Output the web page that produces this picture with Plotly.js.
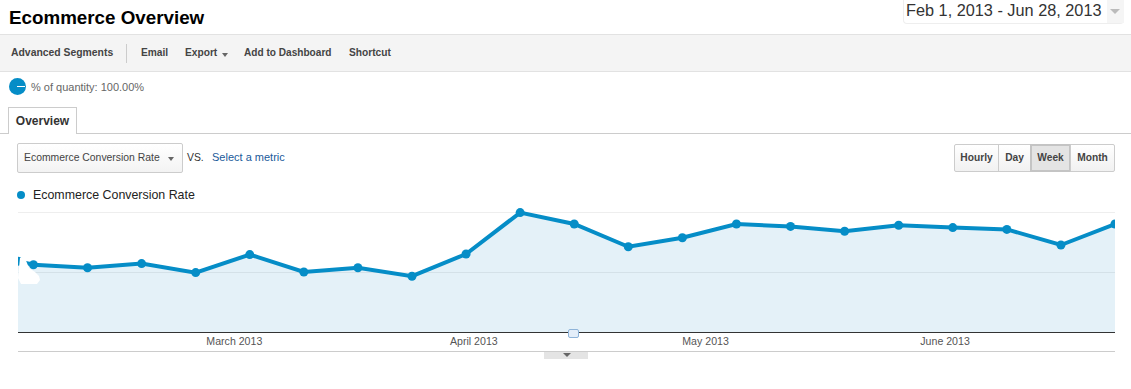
<!DOCTYPE html>
<html><head><meta charset="utf-8">
<script src="https://cdn.plot.ly/plotly-3.0.1.min.js"></script>
<style>
html,body{margin:0;padding:0;background:#fff;overflow:hidden;font-family:"Liberation Sans",Arial,sans-serif}
#page{position:relative;width:1131px;height:389px;overflow:hidden}
#page div{position:absolute;white-space:nowrap;box-sizing:border-box}
#chart{left:0;top:0;width:1131px;height:389px}
.tool{top:46px;font-size:10.2px;font-weight:bold;color:#444;line-height:13px}
.btn{top:144px;height:28px;font-size:10.2px;font-weight:bold;color:#444;line-height:26px;text-align:center;border:1px solid #ccc;background:linear-gradient(#fff,#f1f1f1)}
.arrow{width:0;height:0;border-left:4px solid transparent;border-right:4px solid transparent;border-top:4px solid #666}
</style></head><body>
<div id="page">
  <div id="bar" style="left:0;top:34px;width:1131px;height:38px;background:#f4f4f4;border-top:1px solid #e2e2e2;border-bottom:1px solid #e2e2e2"></div>
  <div style="left:9px;top:8px;font-size:18.8px;font-weight:bold;color:#000;line-height:20px">Ecommerce Overview</div>
  <div style="left:903px;top:0;width:221px;height:24px;border:1px solid #eee;border-top:none;border-radius:0 0 4px 4px"></div>
  <div style="left:906px;top:0;font-size:16.3px;color:#333;line-height:20px">Feb 1, 2013 - Jun 28, 2013</div>
  <div style="left:1107px;top:0;width:17px;height:23px;background:#f5f5f5"></div>
  <div class="arrow" style="left:1110px;top:9px;border-left-width:5px;border-right-width:5px;border-top:5px solid #bbb"></div>

  <div class="tool" style="left:11px;font-size:10.4px">Advanced Segments</div>
  <div style="left:126px;top:44px;width:1px;height:19px;background:#ccc"></div>
  <div class="tool" style="left:141px">Email</div>
  <div class="tool" style="left:185px">Export</div>
  <div class="arrow" style="left:222px;top:53px;border-left-width:3.5px;border-right-width:3.5px"></div>
  <div class="tool" style="left:244px;font-size:10.1px">Add to Dashboard</div>
  <div class="tool" style="left:349px">Shortcut</div>

  <div style="left:9px;top:78px;width:17px;height:17px;border-radius:50%;background:#058dc7"></div>
  <div style="left:17px;top:86px;width:8px;height:1px;background:#fff"></div>
  <div style="left:31px;top:81px;font-size:11px;color:#666;line-height:13px">% of quantity: 100.00%</div>

  <div style="left:0;top:133px;width:1131px;height:1px;background:#ccc"></div>
  <div style="left:8px;top:107px;width:69px;height:27px;background:#fff;border:1px solid #ccc;border-bottom:none;text-align:center;font-size:12px;font-weight:bold;color:#333;line-height:26px">Overview</div>

  <div style="left:17px;top:143px;width:166px;height:30px;border:1px solid #ccc;border-radius:2px;background:linear-gradient(#fff,#f3f3f3)"></div>
  <div style="left:24px;top:151px;font-size:10.4px;color:#444;line-height:13px">Ecommerce Conversion Rate</div>
  <div class="arrow" style="left:168px;top:157px;border-left-width:3.5px;border-right-width:3.5px"></div>
  <div style="left:187px;top:151px;font-size:10.4px;color:#333;line-height:13px">VS.</div>
  <div style="left:212px;top:151px;font-size:11px;color:#1a5a9a;line-height:13px">Select a metric</div>

  <div class="btn" style="left:954px;width:45px;border-radius:2px 0 0 2px">Hourly</div>
  <div class="btn" style="left:998px;width:33px">Day</div>
  <div class="btn" style="left:1030px;width:41px;background:#e4e4e4;border:2px solid #c4c4c4;line-height:24px">Week</div>
  <div class="btn" style="left:1070px;width:45px;border-radius:0 2px 2px 0">Month</div>

  <div style="left:17px;top:191px;width:8px;height:8px;border-radius:50%;background:#058dc7"></div>

  <div id="chart"></div>

  <div style="left:18px;top:258px;width:22px;height:26px;background:#fff;clip-path:polygon(2px 0,7px 0,11px 10px,17px 14px,21px 18px,22px 22px,19px 26px,3px 26px,0 20px,1px 10px)"></div>
  <div style="left:18px;top:351px;width:1097px;height:1px;background:#ccc"></div>
  <div style="left:544px;top:352px;width:44px;height:7px;background:#e4e4e4"></div>
  <div class="arrow" style="left:563px;top:353px"></div>
  <div style="left:568px;top:329px;width:11px;height:9px;background:#e4eef9;border:1px solid #8fb4d9;border-radius:2px"></div>
</div>
<script>
const weekDates = ["2013-02-01","2013-02-03","2013-02-10","2013-02-17","2013-02-24","2013-03-03","2013-03-10","2013-03-17","2013-03-24","2013-03-31","2013-04-07","2013-04-14","2013-04-21","2013-04-28","2013-05-05","2013-05-12","2013-05-19","2013-05-26","2013-06-02","2013-06-09","2013-06-16","2013-06-23"];
const conversionRate = [1.18,1.12,1.07,1.14,0.99,1.29,1.00,1.07,0.93,1.30,1.99,1.80,1.42,1.57,1.80,1.76,1.68,1.78,1.74,1.71,1.45,1.80];
const seriesName = "Ecommerce Conversion Rate";
const monthTicks = ["2013-03-01","2013-04-01","2013-05-01","2013-06-01"];
const monthLabels = ["March 2013","April 2013","May 2013","June 2013"];
const yTicks = [0,1,2];
const blue = "#058dc7";
Plotly.newPlot("chart",[
 {x:weekDates,y:conversionRate,type:"scatter",mode:"lines+markers",fill:"tozeroy",name:seriesName,
  fillcolor:"rgba(10,130,195,0.11)",line:{color:blue,width:4},marker:{color:blue,size:9},showlegend:false,cliponaxis:true}
],{
 width:1131,height:389,margin:{l:18,r:16,t:200,b:57,pad:0},
 paper_bgcolor:"rgba(0,0,0,0)",plot_bgcolor:"rgba(0,0,0,0)",
 font:{family:'"Liberation Sans",Arial,sans-serif'},
 showlegend:false,
 xaxis:{type:"date",range:["2013-02-01","2013-06-23"],tickmode:"array",tickvals:monthTicks,ticktext:monthLabels,
  ticks:"",showgrid:false,zeroline:false,showline:true,linecolor:"#333",linewidth:1,tickfont:{size:10.6,color:"#555"},ticklabelstandoff:-1},
 yaxis:{range:[0,2.2],tickmode:"array",tickvals:yTicks,showticklabels:false,ticks:"",gridcolor:"#eeeeee",gridwidth:1,zeroline:false,showline:false},
 annotations:[{xref:"paper",yref:"paper",x:0.0137,y:1.03,xanchor:"left",yanchor:"middle",text:seriesName,showarrow:false,xshift:-2,yshift:1,font:{size:12.4,color:"#222"}}],
 hovermode:"closest"
},{displayModeBar:false,staticPlot:true});
</script>
</body></html>
